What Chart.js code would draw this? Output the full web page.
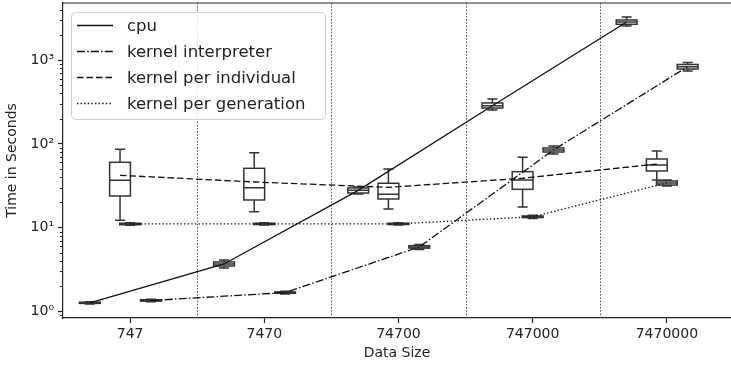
<!DOCTYPE html>
<html><head><meta charset="utf-8">
<script src="https://cdn.jsdelivr.net/npm/chart.js@4/dist/chart.umd.min.js"></script>
<style>html,body{margin:0;padding:0;background:#fff}#wrap{width:731px;height:367px;position:relative}</style>
</head><body><div id="wrap"><canvas id="c"></canvas></div>
<script>
// ---- data ----
const categories = ['747', '7470', '74700', '747000', '7470000'];
const seriesNames = ['cpu', 'kernel interpreter', 'kernel per individual', 'kernel per generation'];
const yTickValues = [1, 10, 100, 1000];

const cpuMean   = [1.27, 3.69, 27.9, 285, 2850];
const cpuMedian = [1.27, 3.69, 27.9, 285, 2850];
const cpuQ1     = [1.25, 3.49, 25.9, 268, 2675];
const cpuQ3     = [1.29, 3.90, 29.8, 308, 3010];
const cpuLow    = [1.23, 3.30, 25.3, 254, 2553];
const cpuHigh   = [1.31, 4.12, 30.6, 343, 3270];

const interpMean   = [1.35, 1.68, 5.89, 84.6, 834];
const interpMedian = [1.35, 1.68, 5.89, 84.6, 834];
const interpQ1     = [1.33, 1.65, 5.70, 80.0, 783];
const interpQ3     = [1.38, 1.71, 6.10, 89.4, 887];
const interpLow    = [1.31, 1.62, 5.50, 75.7, 741];
const interpHigh   = [1.40, 1.74, 6.30, 94.4, 936];

const indivMean   = [42.2, 35.1, 30.3, 38.9, 57.5];
const indivMedian = [36.8, 30.0, 25.0, 37.1, 56.0];
const indivQ1     = [23.9, 21.4, 22.0, 28.7, 47.5];
const indivQ3     = [60.3, 51.1, 33.9, 46.6, 66.0];
const indivLow    = [12.3, 15.5, 16.7, 17.7, 37.0];
const indivHigh   = [86.2, 78.5, 50.2, 69.2, 82.0];

const genMean   = [11.07, 11.1, 11.1, 13.5, 34.2];
const genMedian = [11.07, 11.1, 11.1, 13.5, 34.2];
const genQ1     = [10.85, 10.9, 10.9, 13.2, 32.3];
const genQ3     = [11.30, 11.3, 11.3, 13.8, 36.1];
const genLow    = [10.70, 10.75, 10.75, 12.9, 31.5];
const genHigh   = [11.45, 11.45, 11.45, 14.1, 37.0];

// ---- style / layout ----
const series = [
  {mean: cpuMean, med: cpuMedian, q1: cpuQ1, q3: cpuQ3, lo: cpuLow, hi: cpuHigh, off: -0.3, dash: []},
  {mean: interpMean, med: interpMedian, q1: interpQ1, q3: interpQ3, lo: interpLow, hi: interpHigh, off: 0.155, dash: [8, 2.2, 1.5, 2.2]},
  {mean: indivMean, med: indivMedian, q1: indivQ1, q3: indivQ3, lo: indivLow, hi: indivHigh, off: -0.075, dash: [6.5, 3]},
  {mean: genMean, med: genMedian, q1: genQ1, q3: genQ3, lo: genLow, hi: genHigh, off: 0.0, dash: [1.4, 2.2]}
];
const BOX_W = 0.155, CAP_W = 0.075;
const LINE_COLOR = '#111', BOX_COLOR = '#333', AXIS_COLOR = '#222';
const FONT = 'DejaVu Sans';
const sup = ['\u2070', '\u00b9', '\u00b2', '\u00b3', '\u2074'];

const datasets = series.map((s, k) => ({
  label: seriesNames[k],
  data: s.mean.map((v, i) => ({x: i + s.off, y: v})),
  borderColor: LINE_COLOR,
  borderWidth: 1.3,
  borderDash: s.dash,
  pointRadius: 0,
  fill: false,
  tension: 0
}));

const boxPlugin = {
  id: 'boxes',
  beforeDatasetsDraw(chart) {
    const {ctx, chartArea: a, scales: {x, y}} = chart;
    ctx.save();
    // dotted separators
    ctx.strokeStyle = '#555';
    ctx.lineWidth = 1;
    ctx.setLineDash([1.6, 1.6]);
    for (let i = 0; i < categories.length - 1; i++) {
      const px = Math.round(x.getPixelForValue(i + 0.5)) + 0.5;
      ctx.beginPath(); ctx.moveTo(px, a.top); ctx.lineTo(px, a.bottom); ctx.stroke();
    }
    ctx.setLineDash([]);
    // top spine
    ctx.strokeStyle = AXIS_COLOR; ctx.lineWidth = 1.2;
    ctx.beginPath(); ctx.moveTo(a.left, a.top); ctx.lineTo(a.right, a.top); ctx.stroke();
    // boxes
    ctx.strokeStyle = BOX_COLOR; ctx.lineWidth = 1.5;
    series.forEach(s => {
      s.mean.forEach((_, i) => {
        const c = i + s.off;
        const xl = x.getPixelForValue(c - BOX_W / 2), xr = x.getPixelForValue(c + BOX_W / 2);
        const cl = x.getPixelForValue(c - CAP_W / 2), cr = x.getPixelForValue(c + CAP_W / 2);
        const xc = x.getPixelForValue(c);
        const yq1 = y.getPixelForValue(s.q1[i]), yq3 = y.getPixelForValue(s.q3[i]);
        const ym = y.getPixelForValue(s.med[i]);
        const ylo = y.getPixelForValue(s.lo[i]), yhi = y.getPixelForValue(s.hi[i]);
        ctx.strokeRect(xl, yq3, xr - xl, yq1 - yq3);
        ctx.beginPath();
        ctx.moveTo(xl, ym); ctx.lineTo(xr, ym);
        ctx.moveTo(xc, yq3); ctx.lineTo(xc, yhi);
        ctx.moveTo(xc, yq1); ctx.lineTo(xc, ylo);
        ctx.moveTo(cl, yhi); ctx.lineTo(cr, yhi);
        ctx.moveTo(cl, ylo); ctx.lineTo(cr, ylo);
        ctx.stroke();
      });
    });
    // minor y ticks
    ctx.strokeStyle = AXIS_COLOR; ctx.lineWidth = 1;
    for (let d = -1; d <= 3; d++) {
      for (let m = 2; m <= 9; m++) {
        const v = m * Math.pow(10, d);
        if (v < y.min || v > y.max) continue;
        const py = Math.round(y.getPixelForValue(v)) + 0.5;
        ctx.beginPath(); ctx.moveTo(a.left - 3, py); ctx.lineTo(a.left, py); ctx.stroke();
      }
    }
    ctx.restore();
  },
  afterDatasetsDraw(chart) {
    const {ctx} = chart;
    ctx.save();
    const bx = 71, by = 12, bw = 254, bh = 107, r = 4;
    ctx.beginPath();
    ctx.roundRect(bx + 0.5, by + 0.5, bw, bh, r);
    ctx.fillStyle = 'rgba(255,255,255,0.85)';
    ctx.fill();
    ctx.strokeStyle = '#d0d0d0'; ctx.lineWidth = 1;
    ctx.stroke();
    ctx.font = '16.5px "' + FONT + '"';
    ctx.textBaseline = 'middle';
    ctx.fillStyle = AXIS_COLOR;
    chart.data.datasets.forEach((ds, k) => {
      const ry = 25.5 + k * 26;
      ctx.strokeStyle = LINE_COLOR; ctx.lineWidth = 1.3;
      ctx.setLineDash(ds.borderDash);
      ctx.beginPath(); ctx.moveTo(77, ry); ctx.lineTo(113, ry); ctx.stroke();
      ctx.setLineDash([]);
      ctx.fillText(ds.label, 127, ry + 1);
    });
    ctx.restore();
  }
};

new Chart(document.getElementById('c'), {
  type: 'line',
  data: {datasets},
  plugins: [boxPlugin],
  options: {
    responsive: true,
    maintainAspectRatio: false,
    animation: false,
    layout: {padding: {top: 3, right: 0, left: 0, bottom: 0}},
    plugins: {legend: {display: false}, tooltip: {enabled: false}},
    scales: {
      x: {
        type: 'linear',
        min: -0.5, max: 4.478,
        afterBuildTicks: sc => { sc.ticks = categories.map((_, i) => ({value: i})); },
        afterFit: sc => { sc.height = 49; sc.paddingLeft = 0; sc.paddingRight = 0; },
        ticks: {
          callback: v => categories[v],
          autoSkip: false, maxRotation: 0,
          font: {family: FONT, size: 14}, color: AXIS_COLOR, padding: 3
        },
        grid: {drawOnChartArea: false, tickLength: 5, color: AXIS_COLOR, tickWidth: 1.2},
        border: {color: AXIS_COLOR, width: 1.2},
        title: {display: true, text: 'Data Size', font: {family: FONT, size: 14}, color: AXIS_COLOR, padding: {top: 0, bottom: 5.6}}
      },
      y: {
        type: 'logarithmic',
        min: 0.836, max: 4800,
        afterBuildTicks: sc => { sc.ticks = yTickValues.map(v => ({value: v})); },
        afterFit: sc => { sc.width = 63; sc.paddingTop = 0; sc.paddingBottom = 0; },
        ticks: {
          callback: v => '10' + sup[Math.round(Math.log10(v))],
          font: {family: FONT, size: 14}, color: AXIS_COLOR, padding: 4
        },
        grid: {drawOnChartArea: false, tickLength: 5, color: AXIS_COLOR, tickWidth: 1.2},
        border: {color: AXIS_COLOR, width: 1.2},
        title: {display: true, text: 'Time in Seconds', font: {family: FONT, size: 14}, color: AXIS_COLOR, padding: {top: 3.6, bottom: 0}}
      }
    }
  }
});
</script>
</body></html>
